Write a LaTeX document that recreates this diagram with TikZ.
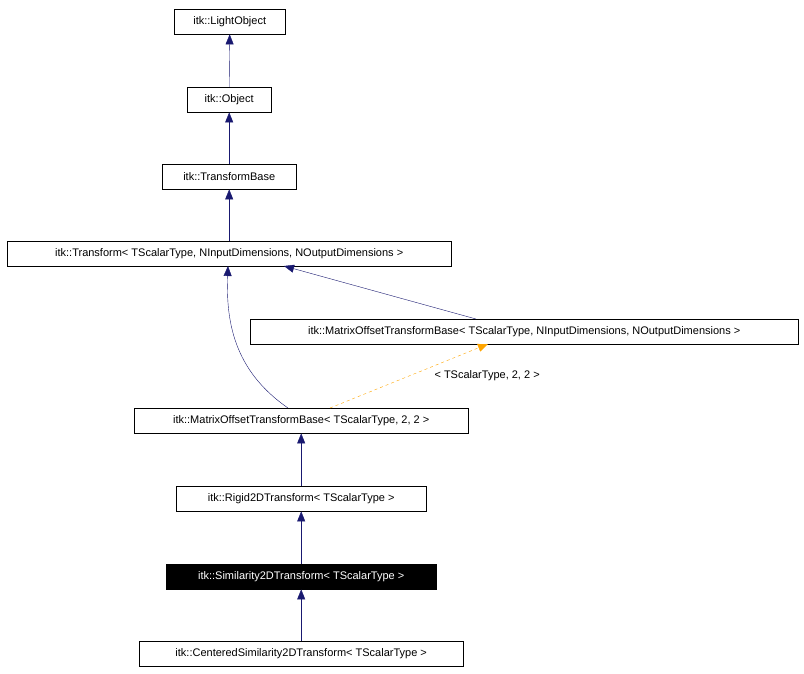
\documentclass[tikz,border=0pt]{standalone}
\usepackage{fontspec}
\setmainfont{Liberation Sans}
\usetikzlibrary{arrows.meta}
\definecolor{navy}{HTML}{191970}
\definecolor{dorange}{HTML}{FFA500}
\begin{document}
\begin{tikzpicture}[x=1pt,y=-1pt,
  cls/.style={draw=black,fill=white,inner sep=0pt,minimum height=25pt,font=\fontsize{11}{13}\selectfont,anchor=north west},
  inh/.style={draw=navy,-{Triangle[length=10pt,width=8pt,fill=navy]}},
  tpl/.style={draw=dorange,dashed,-{Triangle[length=10pt,width=8pt,fill=dorange]}}]
\useasboundingbox (0,0) rectangle (804,674);
\node[cls,minimum width=111pt] (lo) at (174,9) {itk::LightObject};
\node[cls,minimum width=84pt] (ob) at (187,87) {itk::Object};
\node[cls,minimum width=134pt] (tb) at (162,164) {itk::TransformBase};
\node[cls,minimum width=444pt] (tr) at (7,241) {itk::Transform< TScalarType, NInputDimensions, NOutputDimensions >};
\node[cls,minimum width=548pt] (mg) at (250,319) {itk::MatrixOffsetTransformBase< TScalarType, NInputDimensions, NOutputDimensions >};
\node[cls,minimum width=334pt] (m2) at (134,408) {itk::MatrixOffsetTransformBase< TScalarType, 2, 2 >};
\node[cls,minimum width=250pt] (ri) at (176,486) {itk::Rigid2DTransform< TScalarType >};
\node[cls,minimum width=270pt,fill=black,text=white] (si) at (166,564) {itk::Similarity2DTransform< TScalarType >};
\node[cls,minimum width=324pt] (cs) at (139,641) {itk::CenteredSimilarity2DTransform< TScalarType >};
\draw[inh] (ob.north) -- (lo.south);
\draw[inh] (tb.north) -- (ob.south);
\draw[inh] (tr.north) -- (tb.south);
\draw[inh] (mg.north -| 476,0) -- (284,266);
\draw[inh] (288,408) .. controls (233,370) and (226,320) .. (228,266);
\draw[tpl] (330,408) -- (488,344);
\node[font=\fontsize{11}{13}\selectfont,anchor=west] (lab) at (431,376) {< TScalarType, 2, 2 >};
\draw[inh] (ri.north) -- (m2.south);
\draw[inh] (si.north) -- (ri.south);
\draw[inh] (cs.north) -- (si.south);
\end{tikzpicture}
\end{document}
